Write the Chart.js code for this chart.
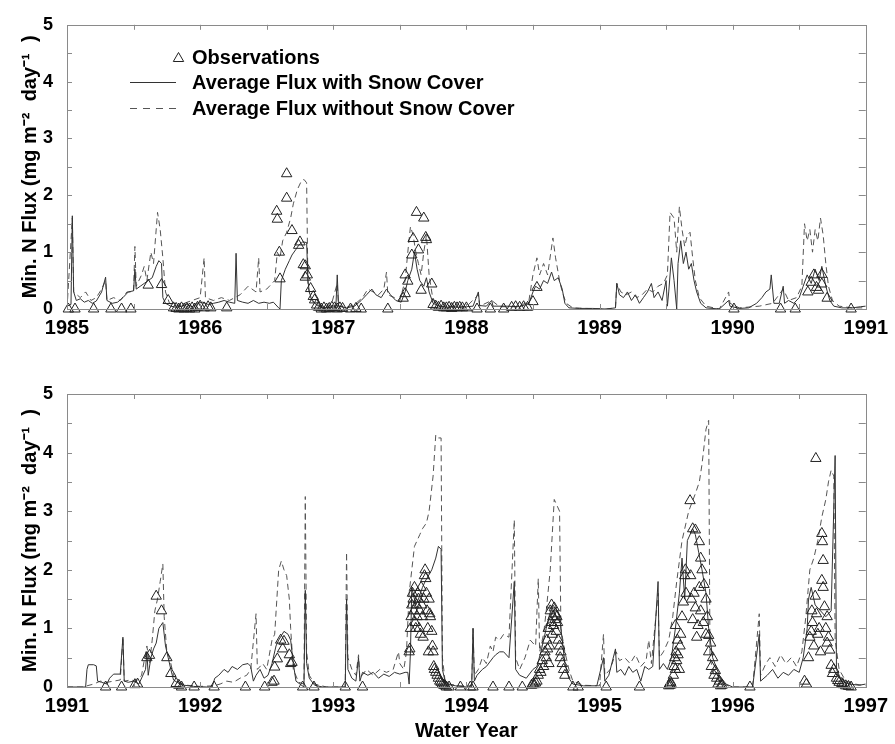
<!DOCTYPE html>
<html>
<head>
<meta charset="utf-8">
<script src="https://cdn.jsdelivr.net/npm/chart.js@4.4.1/dist/chart.umd.min.js"></script>
<style>
  html, body { margin: 0; padding: 0; background: #fff; }
  #wrap { position: relative; width: 895px; height: 744px; }
  canvas { position: absolute; left: 0; }
</style>
</head>
<body>
<div id="wrap">
  <canvas id="top-chart" width="895" height="340" style="top:0"></canvas>
  <canvas id="bottom-chart" width="895" height="404" style="top:340px"></canvas>
</div>
<script>
// [water year, flux] pairs
const topWithSnow = [[1985.00,0.05],[1985.03,0.08],[1985.04,1.64],[1985.05,0.3],[1985.07,0.15],[1985.10,0.18],[1985.13,0.12],[1985.16,0.15],[1985.19,0.1],[1985.22,0.14],[1985.26,0.3],[1985.29,0.56],[1985.30,0.15],[1985.34,0.1],[1985.38,0.12],[1985.42,0.2],[1985.46,0.3],[1985.50,0.32],[1985.51,0.7],[1985.52,0.35],[1985.55,0.4],[1985.58,0.45],[1985.61,0.5],[1985.64,0.55],[1985.67,0.75],[1985.69,0.85],[1985.71,0.8],[1985.72,0.2],[1985.74,0.1],[1985.78,0.05],[1985.82,0.03],[1985.86,0.05],[1985.90,0.08],[1985.94,0.04],[1985.98,0.1],[1986.02,0.12],[1986.06,0.08],[1986.10,0.1],[1986.14,0.12],[1986.18,0.15],[1986.22,0.12],[1986.26,0.1],[1986.27,0.98],[1986.28,0.15],[1986.32,0.12],[1986.36,0.1],[1986.40,0.15],[1986.44,0.1],[1986.48,0.12],[1986.52,0.1],[1986.55,0.12],[1986.59,0.02],[1986.60,0],[1986.61,0.5],[1986.64,0.7],[1986.67,0.85],[1986.69,0.95],[1986.72,1.05],[1986.74,1.12],[1986.77,1.18],[1986.80,1.17],[1986.81,0.5],[1986.82,0.3],[1986.84,0.15],[1986.88,0.06],[1986.92,0.03],[1986.96,0.02],[1987.02,0.05],[1987.03,0.6],[1987.04,0.05],[1987.10,0.02],[1987.16,0.05],[1987.21,0.15],[1987.25,0.25],[1987.29,0.35],[1987.32,0.25],[1987.36,0.2],[1987.40,0.35],[1987.43,0.25],[1987.47,0.15],[1987.51,0.12],[1987.54,0.3],[1987.56,0.5],[1987.59,0.7],[1987.61,1.0],[1987.63,0.7],[1987.65,0.5],[1987.68,0.4],[1987.70,0.55],[1987.72,0.3],[1987.75,0.1],[1987.80,0.05],[1987.85,0.03],[1987.90,0.04],[1987.95,0.03],[1988.00,0.04],[1988.05,0.05],[1988.09,0.3],[1988.10,0.06],[1988.15,0.05],[1988.19,0.15],[1988.20,0.05],[1988.30,0.05],[1988.40,0.04],[1988.47,0.1],[1988.50,0.3],[1988.52,0.4],[1988.55,0.35],[1988.58,0.5],[1988.61,0.45],[1988.64,0.65],[1988.66,0.5],[1988.69,0.55],[1988.72,0.35],[1988.74,0.1],[1988.77,0.02],[1988.85,0.01],[1988.95,0.01],[1989.05,0],[1989.12,0.02],[1989.13,0.45],[1989.15,0.25],[1989.18,0.2],[1989.21,0.3],[1989.24,0.15],[1989.27,0.25],[1989.30,0.1],[1989.33,0.2],[1989.36,0.3],[1989.39,0.45],[1989.41,0.2],[1989.44,0.3],[1989.47,0.15],[1989.50,0.5],[1989.51,0.05],[1989.52,0.3],[1989.54,0.9],[1989.56,0.5],[1989.58,0],[1989.59,0.8],[1989.61,1.2],[1989.63,0.8],[1989.65,1.0],[1989.67,0.7],[1989.69,0.8],[1989.71,0.5],[1989.73,0.3],[1989.76,0.1],[1989.80,0.02],[1989.90,0],[1989.97,0.15],[1989.98,0.05],[1990.05,0.01],[1990.12,0.02],[1990.18,0.1],[1990.22,0.2],[1990.25,0.3],[1990.28,0.35],[1990.29,0.6],[1990.31,0.1],[1990.35,0.1],[1990.38,0.4],[1990.39,0.1],[1990.42,0.15],[1990.46,0.1],[1990.50,0.2],[1990.53,0.4],[1990.56,0.6],[1990.59,0.45],[1990.62,0.7],[1990.65,0.5],[1990.67,0.75],[1990.70,0.4],[1990.73,0.15],[1990.76,0.05],[1990.82,0.02],[1990.90,0.02],[1990.96,0.04],[1991.00,0.05]];

const topWithoutSnow = [[1985.00,0],[1985.04,1.6],[1985.05,0.3],[1985.10,0.2],[1985.14,0.3],[1985.18,0.15],[1985.22,0.2],[1985.26,0.35],[1985.29,0.5],[1985.30,0.15],[1985.35,0.2],[1985.40,0.15],[1985.45,0.3],[1985.50,0.3],[1985.51,1.1],[1985.52,0.4],[1985.56,0.6],[1985.58,0.75],[1985.60,0.5],[1985.63,1.0],[1985.65,0.8],[1985.68,1.7],[1985.70,1.4],[1985.72,0.9],[1985.74,0.3],[1985.77,0.1],[1985.82,0.05],[1985.88,0.1],[1985.94,0.15],[1986.00,0.2],[1986.03,0.9],[1986.04,0.2],[1986.10,0.15],[1986.16,0.2],[1986.22,0.15],[1986.30,0.25],[1986.36,0.4],[1986.42,0.3],[1986.44,0.9],[1986.45,0.3],[1986.50,0.35],[1986.56,0.5],[1986.58,1.0],[1986.60,0.9],[1986.62,1.2],[1986.65,1.35],[1986.68,1.6],[1986.70,1.85],[1986.73,2.1],[1986.76,2.25],[1986.78,2.28],[1986.80,2.22],[1986.81,0.4],[1986.83,0.2],[1986.87,0.08],[1986.92,0.05],[1986.98,0.03],[1987.03,0.45],[1987.04,0.05],[1987.10,0.03],[1987.16,0.08],[1987.22,0.2],[1987.26,0.35],[1987.30,0.3],[1987.34,0.25],[1987.38,0.35],[1987.40,0.65],[1987.41,0.25],[1987.46,0.2],[1987.50,0.15],[1987.54,0.5],[1987.56,1.0],[1987.58,1.45],[1987.60,1.3],[1987.62,1.0],[1987.64,0.8],[1987.66,0.6],[1987.68,1.0],[1987.70,1.3],[1987.72,0.6],[1987.75,0.15],[1987.80,0.05],[1987.90,0.04],[1988.00,0.04],[1988.09,0.25],[1988.10,0.05],[1988.19,0.15],[1988.25,0.04],[1988.40,0.04],[1988.47,0.15],[1988.50,0.6],[1988.53,0.9],[1988.55,0.6],[1988.58,0.8],[1988.61,0.6],[1988.65,1.25],[1988.67,0.9],[1988.70,0.5],[1988.72,0.3],[1988.75,0.1],[1988.80,0.02],[1988.90,0.01],[1989.05,0],[1989.12,0.02],[1989.13,0.45],[1989.16,0.3],[1989.20,0.25],[1989.24,0.3],[1989.28,0.2],[1989.32,0.25],[1989.36,0.35],[1989.40,0.3],[1989.44,0.4],[1989.48,0.45],[1989.51,0.6],[1989.53,1.7],[1989.56,1.6],[1989.58,1.0],[1989.60,1.8],[1989.62,1.4],[1989.64,1.1],[1989.66,1.3],[1989.68,1.35],[1989.70,0.9],[1989.72,0.5],[1989.75,0.2],[1989.80,0.05],[1989.90,0],[1989.97,0.3],[1989.98,0.1],[1990.05,0.02],[1990.20,0.05],[1990.30,0.1],[1990.38,0.35],[1990.42,0.15],[1990.48,0.2],[1990.52,0.4],[1990.54,1.5],[1990.56,1.2],[1990.58,1.4],[1990.60,1.0],[1990.62,1.4],[1990.64,1.2],[1990.66,1.6],[1990.68,1.3],[1990.70,0.8],[1990.72,0.4],[1990.75,0.15],[1990.80,0.05],[1990.90,0.02],[1991.00,0.02]];

const topObserved = [[1985.01,0],[1985.06,0],[1985.20,0],[1985.33,0],[1985.41,0],[1985.48,0],[1985.61,0.42],[1985.71,0.43],[1985.76,0.15],[1985.80,0.02],[1985.82,0.01],[1985.84,0],[1985.86,0.02],[1985.88,0],[1985.90,0.01],[1985.92,0],[1985.94,0.02],[1985.96,0],[1985.98,0.03],[1986.00,0.05],[1986.03,0.02],[1986.06,0.04],[1986.08,0.02],[1986.20,0.02],[1986.575,1.72],[1986.58,1.58],[1986.595,1.0],[1986.60,0.53],[1986.65,2.38],[1986.65,1.95],[1986.69,1.38],[1986.74,1.12],[1986.75,1.18],[1986.775,0.78],[1986.79,0.76],[1986.805,0.6],[1986.79,0.56],[1986.83,0.36],[1986.85,0.22],[1986.86,0.16],[1986.875,0.07],[1986.89,0.03],[1986.91,0],[1986.93,0.02],[1986.95,0],[1986.97,0.01],[1986.99,0.03],[1987.01,0.02],[1987.03,0],[1987.05,0.02],[1987.07,0.01],[1987.13,0],[1987.17,0.01],[1987.21,0],[1987.41,0],[1987.525,0.19],[1987.54,0.27],[1987.54,0.6],[1987.56,0.49],[1987.59,0.95],[1987.60,1.24],[1987.625,1.7],[1987.64,1.04],[1987.66,0.33],[1987.68,1.6],[1987.695,1.26],[1987.70,1.22],[1987.74,0.44],[1987.75,0.08],[1987.77,0.05],[1987.79,0.03],[1987.81,0.05],[1987.83,0.02],[1987.85,0.02],[1987.87,0.03],[1987.89,0.01],[1987.91,0.03],[1987.93,0.02],[1987.95,0.03],[1987.97,0.02],[1988.00,0.02],[1988.08,0],[1988.18,0],[1988.28,0],[1988.34,0.03],[1988.37,0.04],[1988.40,0.03],[1988.43,0.04],[1988.46,0.03],[1988.50,0.13],[1988.53,0.38],[1990.01,0],[1990.36,0],[1990.47,0],[1990.565,0.3],[1990.59,0.47],[1990.61,0.6],[1990.63,0.38],[1990.645,0.33],[1990.67,0.61],[1990.67,0.44],[1990.71,0.19],[1990.89,0]];

const bottomWithSnow = [[1991.00,0],[1991.14,0],[1991.15,0.3],[1991.16,0.38],[1991.20,0.38],[1991.22,0.36],[1991.23,0.1],[1991.26,0.08],[1991.30,0.05],[1991.32,0.15],[1991.35,0.22],[1991.40,0.22],[1991.42,0.85],[1991.43,0.1],[1991.46,0.08],[1991.50,0.1],[1991.54,0.05],[1991.59,0.3],[1991.60,0.6],[1991.61,0.2],[1991.63,0.5],[1991.65,0.65],[1991.67,0.75],[1991.69,1.0],[1991.72,1.1],[1991.74,0.7],[1991.76,0.5],[1991.78,0.3],[1991.80,0.12],[1991.84,0.06],[1991.88,0.03],[1991.95,0.01],[1992.05,0],[1992.09,0],[1992.11,0.15],[1992.14,0.2],[1992.18,0.3],[1992.21,0.25],[1992.24,0.35],[1992.28,0.3],[1992.32,0.38],[1992.36,0.4],[1992.38,0.35],[1992.40,0.1],[1992.42,0.2],[1992.45,0.3],[1992.48,0.15],[1992.51,0.2],[1992.54,0.4],[1992.57,0.7],[1992.59,0.8],[1992.63,0.95],[1992.66,0.9],[1992.68,0.8],[1992.70,0.4],[1992.72,0.1],[1992.75,0.05],[1992.78,0],[1992.79,1.65],[1992.80,0.4],[1992.82,0.15],[1992.86,0.03],[1992.92,0],[1993.09,0],[1993.10,1.5],[1993.11,0.3],[1993.14,0.15],[1993.17,0.1],[1993.19,0.5],[1993.20,0.1],[1993.22,0.25],[1993.26,0.2],[1993.30,0.25],[1993.34,0.15],[1993.38,0.22],[1993.42,0.18],[1993.46,0.25],[1993.50,0.22],[1993.54,0.25],[1993.56,0.25],[1993.57,0.05],[1993.58,0.6],[1993.59,1.7],[1993.62,1.4],[1993.64,1.5],[1993.67,1.7],[1993.69,1.8],[1993.74,2.0],[1993.77,2.2],[1993.79,2.4],[1993.81,2.35],[1993.82,0.3],[1993.84,0.1],[1993.87,0.04],[1993.92,0.02],[1994.00,0],[1994.04,0],[1994.05,1.0],[1994.06,0.1],[1994.08,0.2],[1994.12,0.3],[1994.15,0.35],[1994.20,0.5],[1994.22,0.55],[1994.25,0.6],[1994.28,0.6],[1994.32,0.5],[1994.36,1.8],[1994.37,0.3],[1994.40,0.2],[1994.45,0.15],[1994.50,0.3],[1994.53,0.35],[1994.56,0.6],[1994.58,0.8],[1994.60,1.0],[1994.62,1.2],[1994.65,1.4],[1994.68,1.3],[1994.70,1.2],[1994.72,0.8],[1994.74,0.4],[1994.77,0.15],[1994.80,0.05],[1994.88,0.02],[1994.98,0.02],[1995.03,0.5],[1995.04,0.1],[1995.07,0.2],[1995.12,0.65],[1995.13,0.25],[1995.16,0.3],[1995.19,0.2],[1995.22,0.35],[1995.25,0.25],[1995.28,0.3],[1995.31,0.1],[1995.34,0.35],[1995.37,0.3],[1995.40,0.35],[1995.44,1.8],[1995.45,0.3],[1995.48,0.4],[1995.51,0.3],[1995.54,0.5],[1995.57,1.0],[1995.60,1.6],[1995.62,2.2],[1995.64,1.5],[1995.66,2.5],[1995.70,2.7],[1995.72,2.6],[1995.745,2.3],[1995.77,2.0],[1995.80,1.6],[1995.82,1.0],[1995.85,0.5],[1995.90,0.2],[1995.95,0.05],[1996.00,0],[1996.15,0],[1996.20,0.9],[1996.21,0.1],[1996.26,0.2],[1996.30,0.3],[1996.34,0.15],[1996.38,0.25],[1996.42,0.2],[1996.46,0.3],[1996.50,0.25],[1996.53,0.5],[1996.56,1.0],[1996.57,1.5],[1996.59,1.7],[1996.62,1.4],[1996.66,1.3],[1996.70,1.2],[1996.74,1.3],[1996.77,3.95],[1996.78,0.3],[1996.82,0.1],[1996.88,0.05],[1996.95,0.03],[1997.00,0.05]];

const bottomWithoutSnow = [[1991.00,0],[1991.14,0],[1991.15,0.02],[1991.20,0.05],[1991.25,0.1],[1991.30,0.08],[1991.35,0.1],[1991.40,0.12],[1991.42,0.85],[1991.43,0.1],[1991.48,0.12],[1991.52,0.1],[1991.56,0.2],[1991.60,0.7],[1991.62,0.4],[1991.64,0.8],[1991.66,1.3],[1991.68,1.5],[1991.70,1.8],[1991.72,2.1],[1991.73,1.2],[1991.75,0.6],[1991.77,0.5],[1991.80,0.2],[1991.84,0.08],[1991.90,0.03],[1992.00,0.01],[1992.10,0.02],[1992.15,0.05],[1992.20,0.1],[1992.25,0.08],[1992.30,0.15],[1992.35,0.2],[1992.38,0.3],[1992.42,1.25],[1992.43,0.3],[1992.47,0.4],[1992.50,0.3],[1992.54,0.8],[1992.56,0.9],[1992.59,2.0],[1992.61,2.15],[1992.63,2.0],[1992.65,1.9],[1992.67,1.5],[1992.68,1.0],[1992.70,0.3],[1992.74,0.08],[1992.78,0.05],[1992.79,3.25],[1992.80,0.6],[1992.82,0.2],[1992.86,0.05],[1992.95,0],[1993.09,0],[1993.10,2.3],[1993.11,0.5],[1993.14,0.3],[1993.17,0.2],[1993.19,0.55],[1993.20,0.15],[1993.25,0.3],[1993.30,0.2],[1993.35,0.3],[1993.40,0.25],[1993.45,0.3],[1993.49,0.6],[1993.50,0.4],[1993.53,0.3],[1993.55,0.6],[1993.57,1.6],[1993.59,2.0],[1993.61,2.4],[1993.63,2.5],[1993.65,2.6],[1993.67,2.7],[1993.70,2.8],[1993.72,3.0],[1993.75,3.6],[1993.77,4.3],[1993.79,4.25],[1993.81,4.25],[1993.82,0.5],[1993.84,0.1],[1993.87,0.05],[1993.95,0.02],[1994.04,0.02],[1994.05,1.0],[1994.06,0.2],[1994.09,0.3],[1994.12,0.5],[1994.15,0.4],[1994.18,0.7],[1994.20,0.6],[1994.22,0.85],[1994.25,0.8],[1994.28,0.9],[1994.32,0.85],[1994.36,2.85],[1994.37,0.5],[1994.40,0.3],[1994.44,0.5],[1994.48,0.8],[1994.52,0.7],[1994.54,1.85],[1994.55,0.6],[1994.58,0.9],[1994.60,1.3],[1994.63,2.0],[1994.66,3.2],[1994.68,3.1],[1994.70,3.0],[1994.71,1.0],[1994.74,0.6],[1994.77,0.3],[1994.80,0.1],[1994.88,0.03],[1995.00,0.02],[1995.03,0.9],[1995.04,0.2],[1995.08,0.3],[1995.11,0.5],[1995.125,0.6],[1995.15,0.45],[1995.19,0.5],[1995.23,0.4],[1995.27,0.55],[1995.31,0.35],[1995.35,0.45],[1995.37,0.8],[1995.39,0.4],[1995.44,1.6],[1995.45,0.5],[1995.48,0.6],[1995.52,0.8],[1995.55,1.2],[1995.58,1.8],[1995.62,2.5],[1995.65,2.8],[1995.67,3.0],[1995.72,3.3],[1995.75,3.5],[1995.77,3.8],[1995.80,4.4],[1995.82,4.55],[1995.83,0.5],[1995.86,0.2],[1995.92,0.05],[1996.00,0],[1996.15,0],[1996.20,1.25],[1996.21,0.2],[1996.25,0.4],[1996.28,0.5],[1996.32,0.35],[1996.36,0.55],[1996.40,0.4],[1996.44,0.5],[1996.48,0.35],[1996.52,0.6],[1996.55,1.2],[1996.58,2.0],[1996.61,2.2],[1996.64,2.5],[1996.67,2.9],[1996.70,3.2],[1996.72,3.5],[1996.74,3.7],[1996.76,3.6],[1996.77,0.8],[1996.80,0.3],[1996.85,0.1],[1996.92,0.05],[1997.00,0.02]];

const bottomObserved = [[1991.29,0],[1991.41,0],[1991.51,0.04],[1991.53,0.05],[1991.60,0.5],[1991.62,0.54],[1991.67,1.55],[1991.71,1.3],[1991.75,0.5],[1991.78,0.23],[1991.82,0.06],[1991.84,0.03],[1991.86,0],[1991.955,0],[1992.105,0],[1992.34,0],[1992.485,0],[1992.54,0.08],[1992.555,0.1],[1992.56,0.34],[1992.58,0.48],[1992.605,0.8],[1992.62,0.65],[1992.63,0.78],[1992.67,0.55],[1992.68,0.4],[1992.69,0.42],[1992.77,0],[1992.855,0],[1993.09,0],[1993.22,0],
  [1993.57,0.6],[1993.575,0.65],[1993.58,1.0],[1993.585,1.2],[1993.59,1.4],[1993.595,1.6],[1993.60,1.5],[1993.605,1.3],[1993.61,1.7],[1993.615,1.1],[1993.62,1.0],[1993.625,1.4],[1993.63,1.2],[1993.635,1.6],[1993.64,1.5],[1993.645,1.0],[1993.65,1.3],[1993.655,0.9],[1993.66,1.7],[1993.665,1.4],[1993.67,1.2],[1993.675,0.85],[1993.68,1.5],[1993.685,1.9],[1993.69,2.0],[1993.695,1.85],[1993.70,1.6],[1993.705,1.3],[1993.71,1.0],[1993.715,0.6],[1993.72,1.5],[1993.725,1.25],[1993.73,1.2],[1993.74,0.95],[1993.745,0.7],[1993.75,0.6],[1993.755,0.35],[1993.76,0.3],[1993.77,0.25],[1993.78,0.2],[1993.79,0.15],[1993.80,0.1],[1993.81,0.08],[1993.82,0.05],[1993.83,0.03],[1993.84,0.02],[1993.85,0],[1993.87,0],
  [1993.955,0],[1994.03,0],[1994.05,0],[1994.20,0],[1994.32,0],[1994.42,0],[1994.49,0.03],[1994.50,0.05],[1994.51,0.04],[1994.52,0.07],[1994.53,0.1],[1994.54,0.2],[1994.55,0.3],[1994.56,0.25],[1994.57,0.45],[1994.58,0.35],[1994.59,0.6],[1994.60,0.5],[1994.605,0.8],[1994.61,0.65],[1994.615,1.0],[1994.62,0.4],[1994.625,0.7],[1994.63,1.3],[1994.635,1.1],[1994.64,1.4],[1994.645,0.9],[1994.65,1.2],[1994.655,1.05],[1994.66,1.35],[1994.665,1.15],[1994.67,1.25],[1994.675,0.95],[1994.68,1.2],[1994.685,1.1],[1994.69,0.8],[1994.70,0.7],[1994.705,0.5],[1994.71,0.6],[1994.72,0.4],[1994.73,0.3],[1994.74,0.2],[1994.80,0],[1994.84,0],
  [1995.05,0],[1995.30,0],[1995.52,0.02],[1995.525,0.05],[1995.53,0.03],[1995.535,0.08],[1995.54,0.04],[1995.555,0.2],[1995.56,0.35],[1995.565,0.5],[1995.57,1.05],[1995.57,0.3],[1995.575,0.6],[1995.58,0.45],[1995.585,0.8],[1995.59,0.55],[1995.60,0.3],[1995.605,0.7],[1995.61,0.9],[1995.62,1.2],[1995.63,1.45],[1995.64,1.9],[1995.645,2.0],[1995.65,1.6],[1995.68,3.18],[1995.685,1.9],[1995.69,1.5],[1995.70,2.7],[1995.70,1.15],[1995.71,1.6],[1995.72,2.68],[1995.72,1.35],[1995.73,0.85],[1995.74,1.05],[1995.75,2.48],[1995.75,1.7],[1995.76,2.2],[1995.76,1.3],[1995.77,2.0],[1995.78,1.1],[1995.785,1.75],[1995.80,1.5],[1995.80,0.9],[1995.81,1.2],[1995.82,0.88],[1995.82,0.6],[1995.835,0.75],[1995.84,0.35],[1995.85,0.5],[1995.86,0.2],[1995.87,0.28],[1995.88,0.15],[1995.89,0.05],[1995.90,0.1],[1995.91,0.02],[1995.92,0.03],
  [1996.13,0],[1996.54,0.1],[1996.555,0.05],[1996.57,0.5],[1996.58,0.85],[1996.59,0.95],[1996.595,1.3],[1996.60,1.1],[1996.61,0.7],[1996.62,1.55],[1996.625,3.9],[1996.63,1.25],[1996.64,0.9],[1996.65,1.0],[1996.66,0.6],[1996.67,2.62],[1996.675,2.48],[1996.68,2.16],[1996.67,1.82],[1996.68,1.7],[1996.69,1.37],[1996.70,1.0],[1996.71,1.2],[1996.71,0.75],[1996.72,0.85],[1996.73,0.63],[1996.74,0.37],[1996.75,0.23],[1996.76,0.3],[1996.78,0.15],[1996.79,0.11],[1996.80,0.08],[1996.82,0.06],[1996.83,0.04],[1996.85,0.02],[1996.87,0.01],[1996.89,0]];

const fluxTicks = [0, 1, 2, 3, 4, 5];
const topYears = [1985, 1991];
const bottomYears = [1991, 1997];
const yTitle = "Min. N Flux (mg m\u207B\u00B2  day\u207B\u00B9  )";

Chart.defaults.font.family = "'Liberation Sans', Arial, Helvetica, sans-serif";
Chart.defaults.color = "#000";

const toXY = (pairs) => pairs.map((p) => ({ x: p[0], y: p[1] }));

// gray frame with small inward ticks every half unit
const framePlugin = {
  id: "frame",
  afterDatasetsDraw(chart) {
    const { ctx, chartArea: a, scales } = chart;
    const x = scales.x, y = scales.y;
    ctx.save();
    ctx.strokeStyle = "#8a8a8a";
    ctx.lineWidth = 1;
    ctx.strokeRect(Math.round(a.left) + 0.5, Math.round(a.top) + 0.5, Math.round(a.right - a.left), Math.round(a.bottom - a.top));
    ctx.beginPath();
    for (let v = 0.5; v < 5; v += 0.5) {
      const py = Math.round(y.getPixelForValue(v)) + 0.5;
      ctx.moveTo(a.left, py); ctx.lineTo(a.left + 5, py);
      ctx.moveTo(a.right, py); ctx.lineTo(a.right - 7, py);
    }
    for (let v = x.min + 0.5; v < x.max; v += 0.5) {
      const px = Math.round(x.getPixelForValue(v)) + 0.5;
      ctx.moveTo(px, a.top); ctx.lineTo(px, a.top + 5);
      ctx.moveTo(px, a.bottom); ctx.lineTo(px, a.bottom - 5);
    }
    ctx.stroke();
    ctx.restore();
  }
};

// legend box inside the upper panel
const legendPlugin = {
  id: "innerLegend",
  afterDraw(chart, args, opts) {
    if (!opts.show) return;
    const ctx = chart.ctx;
    ctx.save();
    ctx.font = "bold 20px 'Liberation Sans', Arial, sans-serif";
    ctx.fillStyle = "#000";
    ctx.textBaseline = "middle";
    ctx.fillText("Observations", 192, 58);
    ctx.fillText("Average Flux with Snow Cover", 192, 83);
    ctx.fillText("Average Flux without Snow Cover", 192, 109);
    ctx.fillStyle = "rgba(0,0,0,0)";
    ctx.strokeStyle = "#222";
    ctx.lineWidth = 1;
    Chart.helpers.drawPoint(ctx, { pointStyle: "triangle", radius: 6, rotation: 0, borderWidth: 1 }, 178.5, 58.5);
    ctx.strokeStyle = "#333";
    ctx.beginPath(); ctx.moveTo(130, 82.5); ctx.lineTo(176, 82.5); ctx.stroke();
    ctx.strokeStyle = "#555";
    ctx.setLineDash([7, 6]);
    ctx.beginPath(); ctx.moveTo(130, 108.5); ctx.lineTo(180, 108.5); ctx.stroke();
    ctx.restore();
  }
};

function makeChart(id, years, obs, withSnow, withoutSnow, opts) {
  return new Chart(document.getElementById(id), {
    type: "scatter",
    data: {
      datasets: [
        {
          label: "Observations",
          data: toXY(obs),
          pointStyle: "triangle",
          pointRadius: 6,
          pointBorderWidth: 1,
          borderColor: "#222",
          backgroundColor: "rgba(0,0,0,0)",
          clip: false,
        },
        {
          label: "Average Flux with Snow Cover",
          data: toXY(withSnow),
          showLine: true,
          borderColor: "#333",
          borderWidth: 1,
          pointRadius: 0,
          tension: 0,
        },
        {
          label: "Average Flux without Snow Cover",
          data: toXY(withoutSnow),
          showLine: true,
          borderColor: "#555",
          borderWidth: 1,
          borderDash: [6, 4],
          pointRadius: 0,
          tension: 0,
        },
      ],
    },
    options: {
      responsive: false,
      animation: false,
      events: [],
      layout: { padding: { left: 0, right: 24, top: opts.padTop, bottom: 0 } },
      scales: {
        x: {
          type: "linear",
          min: years[0],
          max: years[1],
          afterFit: (s) => { s.height = opts.xHeight; },
          grid: { display: false, drawTicks: false },
          border: { display: false },
          ticks: {
            stepSize: 1,
            padding: 7,
            font: { size: 20, weight: "bold" },
            callback: (v) => String(v),
            maxRotation: 0,
          },
          title: {
            display: opts.xTitle,
            text: "Water Year",
            font: { size: 20, weight: "bold" },
            padding: { top: 0, bottom: 1 },
          },
        },
        y: {
          min: 0,
          max: 5,
          afterFit: (s) => { s.width = 67; },
          afterBuildTicks: (s) => { s.ticks = fluxTicks.map((v) => ({ value: v })); },
          grid: { display: false, drawTicks: false },
          border: { display: false },
          ticks: {
            padding: 14,
            font: { size: 18, weight: "bold" },
          },
          title: {
            display: true,
            text: yTitle,
            font: { size: 20, weight: "bold" },
            padding: { top: 18, bottom: 0 },
          },
        },
      },
      plugins: {
        legend: { display: false },
        tooltip: { enabled: false },
        innerLegend: { show: opts.legend },
      },
    },
    plugins: [framePlugin, legendPlugin],
  });
}

makeChart("top-chart", topYears, topObserved, topWithSnow, topWithoutSnow,
  { padTop: 16, xHeight: 31, xTitle: false, legend: true });
makeChart("bottom-chart", bottomYears, bottomObserved, bottomWithSnow, bottomWithoutSnow,
  { padTop: 54, xHeight: 57, xTitle: true, legend: false });
</script>
</body>
</html>
